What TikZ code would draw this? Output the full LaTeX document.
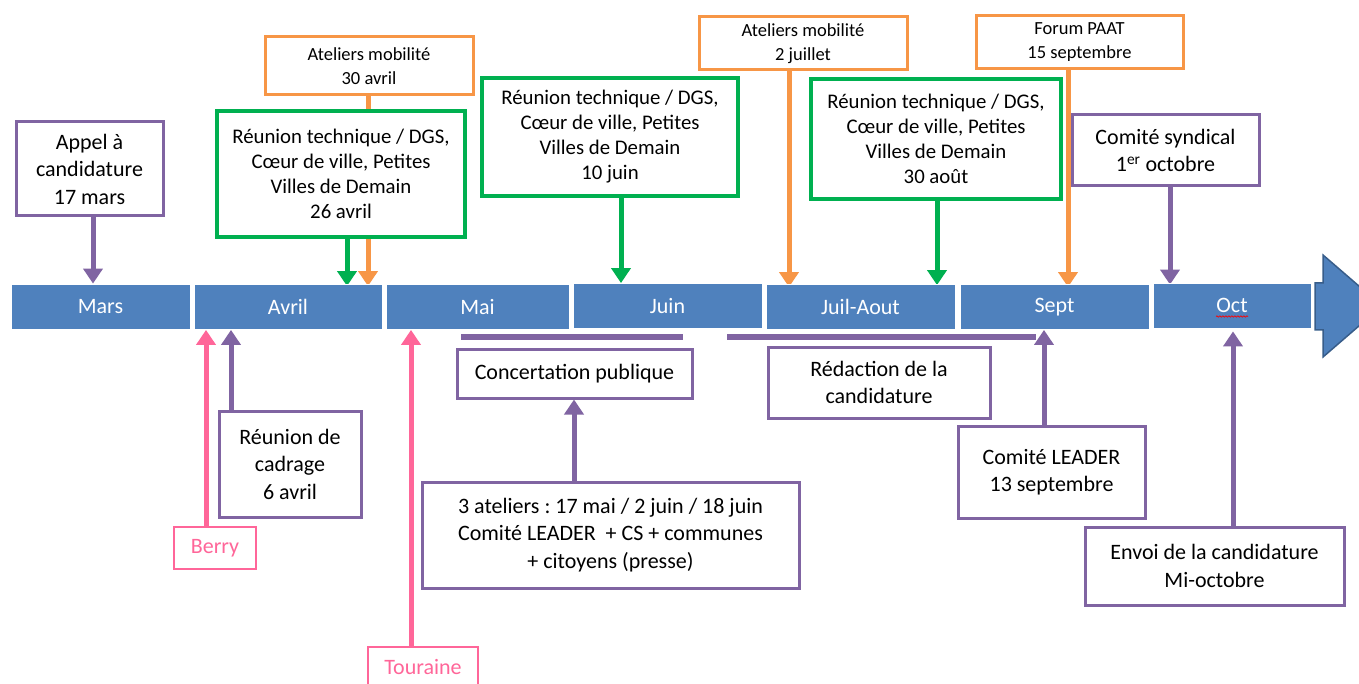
\documentclass[tikz,border=0pt]{standalone}
\usepackage{fontspec}
\setmainfont{Carlito}
\frenchspacing
\usetikzlibrary{arrows.meta,backgrounds,decorations.pathmorphing}
\definecolor{barblue}{HTML}{4F81BD}
\definecolor{bardark}{HTML}{385D8A}
\definecolor{purp}{HTML}{8064A2}
\definecolor{grn}{HTML}{00B050}
\definecolor{orng}{HTML}{F79646}
\definecolor{pnk}{HTML}{FF6699}
\begin{document}
\begin{tikzpicture}[x=1pt,y=-1pt,
  box/.style={draw, line width=3pt, fill=white, align=center, inner sep=2pt,
    font=\fontsize{22}{27.5}\selectfont\frenchspacing},
  pbox/.style={box, draw=purp},
  gbox/.style={box, draw=grn, line width=3.2pt, font=\fontsize{20.8}{25}\selectfont},
  obox/.style={box, draw=orng, font=\fontsize{18.5}{24}\selectfont},
  kbox/.style={box, draw=pnk, line width=2pt, text=pnk},
  month/.style={fill=barblue, draw=white, line width=0.8pt, text=white,
    minimum height=45, inner sep=0pt, font=\fontsize{22}{26}\selectfont},
  conn/.style={line width=5pt, -{Triangle[width=19pt,length=15pt]}},
  pconn/.style={conn, draw=purp},
  gconn/.style={conn, draw=grn},
  oconn/.style={conn, draw=orng},
  kconn/.style={conn, draw=pnk},
  span/.style={draw=purp, line width=5pt}
]
\useasboundingbox (0,0) rectangle (1359,684);

% timeline bars
\node[month, minimum width=179] (mars) at (100.5,306.5) {Mars};
\node[month, minimum width=188] (avril) at (288,307) {Avril};
\node[month, minimum width=183] (mai) at (477.5,307) {Mai};
\node[month, minimum width=189] (juin) at (667.5,306) {Juin};
\node[month, minimum width=189] (juil) at (860.5,307) {Juil-Aout};
\node[month, minimum width=189] (sept) at (1054.5,307) {Sept};
\node[month, minimum width=158] (oct) at (1232,305.5) {Oct};
\draw[fill=barblue, draw=bardark, line width=1.5pt]
  (1315,283) -- (1323,283) -- (1323,255) -- (1382,306) -- (1323,357)
  -- (1323,330) -- (1315,330) -- cycle;
\draw[red, line width=0.7pt, decorate,
  decoration={snake, amplitude=0.7pt, segment length=3pt}]
  ([xshift=-16,yshift=-11]oct.center) -- ([xshift=16,yshift=-11]oct.center);

% top boxes
\node[pbox, minimum width=147, minimum height=94] (appel) at (89.5,169)
  {Appel à\\candidature\\17 mars};
\node[obox, minimum width=208, minimum height=58] (at30) at (369,66)
  {Ateliers mobilité\\30 avril};
\node[gbox, minimum width=248, minimum height=126] (reu26) at (341,174)
  {Réunion technique / DGS,\\Cœur de ville, Petites\\Villes de Demain\\26 avril};
\node[gbox, minimum width=256, minimum height=118] (reu10) at (610,137)
  {Réunion technique / DGS,\\Cœur de ville, Petites\\Villes de Demain\\10 juin};
\node[obox, minimum width=208, minimum height=53] (at2) at (803,43.5)
  {Ateliers mobilité\\2 juillet};
\node[gbox, minimum width=250, minimum height=120] (reu30) at (936,139)
  {Réunion technique / DGS,\\Cœur de ville, Petites\\Villes de Demain\\30 août};
\node[obox, minimum width=207, minimum height=53] (forum) at (1079.5,42.5)
  {Forum PAAT\\15 septembre};
\node[pbox, minimum width=187, minimum height=71] (comsyn) at (1165.5,150.5)
  {Comité syndical\\1\textsuperscript{er} octobre};

% bottom boxes
\node[kbox, minimum width=82, minimum height=42] (berry) at (215,548) {Berry};
\node[pbox, minimum width=142, minimum height=106] (cadrage) at (290,464)
  {Réunion de\\cadrage\\6 avril};
\node[kbox, minimum width=110, minimum height=40] (touraine) at (423,667) {Touraine};
\node[pbox, minimum width=235, minimum height=49] (concert) at (574.5,373.5)
  {Concertation publique};
\node[pbox, minimum width=377, minimum height=106] (ateliers) at (610.5,535)
  {3 ateliers : 17 mai / 2 juin / 18 juin\\Comité LEADER~ + CS + communes\\+ citoyens (presse)};
\node[pbox, minimum width=222, minimum height=71] (redac) at (879,382.5)
  {Rédaction de la\\candidature};
\node[pbox, minimum width=187, minimum height=92] (leader) at (1051.5,472)
  {Comité LEADER\\13 septembre};
\node[pbox, minimum width=259, minimum height=78] (envoi) at (1214.5,566)
  {Envoi de la candidature\\Mi-octobre};

% period bars
\draw[span] (461,337) -- (683,337);
\draw[span] (727,337) -- (1036,337);

% connectors
\begin{pgfonlayer}{background}
\draw[pconn] ([xshift=3.5]appel.south) -- ([xshift=3.5]appel.south |- mars.north);
\draw[oconn] ([xshift=-1]at30.south) -- ([xshift=-1,yshift=-2]at30.south |- avril.north);
\draw[gconn] ([xshift=6]reu26.south) -- ([xshift=6,yshift=-2]reu26.south |- avril.north);
\draw[gconn] ([xshift=11]reu10.south) -- ([xshift=11]reu10.south |- juin.north);
\draw[oconn] ([xshift=-14]at2.south) -- ([xshift=-14,yshift=-3]at2.south |- juil.north);
\draw[gconn] ([xshift=1]reu30.south) -- ([xshift=1,yshift=-1]reu30.south |- juil.north);
\draw[oconn] ([xshift=-11.5]forum.south) -- ([xshift=-11.5,yshift=-3]forum.south |- sept.north);
\draw[pconn] ([xshift=4.5]comsyn.south) -- ([xshift=4.5,yshift=-2]comsyn.south |- oct.north);
\draw[kconn] ([xshift=-9]berry.north) -- ([xshift=-9]berry.north |- avril.south);
\draw[pconn] ([xshift=-59]cadrage.north) -- ([xshift=-59]cadrage.north |- avril.south);
\draw[kconn] ([xshift=-12]touraine.north) -- ([xshift=-12]touraine.north |- mai.south);
\draw[pconn] ([xshift=-36.5]ateliers.north) -- ([xshift=-36.5]ateliers.north |- concert.south);
\draw[pconn] ([xshift=-7.5]leader.north) -- ([xshift=-7.5]leader.north |- sept.south);
\draw[pconn] ([xshift=18.5]envoi.north) -- ([xshift=18.5,yshift=-3]envoi.north |- oct.south);
\end{pgfonlayer}
\end{tikzpicture}
\end{document}
